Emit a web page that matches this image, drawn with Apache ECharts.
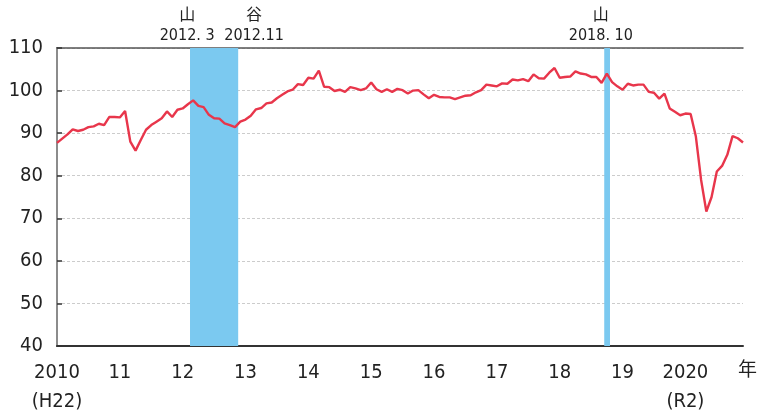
<!DOCTYPE html>
<html>
<head>
<meta charset="utf-8">
<script src="https://cdn.jsdelivr.net/npm/echarts@6/dist/echarts.min.js"></script>
<style>
  html, body { margin: 0; padding: 0; background: #fff; }
  #chart { width: 760px; height: 410px; }
</style>
</head>
<body>
<div id="chart"></div>
<script>
// monthly index, Jan 2010 .. Dec 2020 (x = month number from Jan 2010)
const values = [
  87.7, 88.7, 89.7, 90.9, 90.5, 90.8, 91.4, 91.6, 92.2, 91.9, 93.8, 93.8,
  93.7, 95.2, 88.0, 85.9, 88.4, 90.8, 91.9, 92.7, 93.5, 95.1, 93.8, 95.5,
  95.8, 96.8, 97.7, 96.4, 96.1, 94.3, 93.5, 93.4, 92.3, 91.9, 91.4, 92.7,
  93.2, 94.1, 95.6, 95.9, 97.0, 97.2, 98.2, 99.0, 99.8, 100.2, 101.5, 101.3,
  103.0, 102.8, 104.7, 100.9, 100.8, 99.9, 100.2, 99.7, 100.8, 100.5, 100.1, 100.5,
  101.9, 100.3, 99.7, 100.3, 99.7, 100.4, 100.1, 99.3, 100.0, 100.1, 99.1, 98.2,
  99.0, 98.5, 98.4, 98.4, 98.0, 98.4, 98.8, 98.9, 99.6, 100.1, 101.4, 101.2,
  101.0, 101.7, 101.6, 102.6, 102.4, 102.7, 102.2, 103.8, 102.9, 102.8, 104.2, 105.3,
  103.0, 103.2, 103.3, 104.5, 104.0, 103.8, 103.2, 103.2, 101.8, 104.0, 102.0, 101.0,
  100.2, 101.6, 101.2, 101.4, 101.4, 99.7, 99.5, 98.1, 99.3, 95.8, 95.0, 94.2,
  94.6, 94.5, 89.2, 79.0, 71.6, 75.0, 81.0, 82.3, 84.9, 89.3, 88.8, 87.8
];
const yearLabels = ['2010\n(H22)', '11', '12', '13', '14', '15', '16', '17', '18', '19', '2020\n(R2)'];
// recession shading (month positions)
const bands = [[25.4, 34.6], [104.5, 105.6]];
// turning point notes: month position, text
const turnPos = [26, 34, 105];
const turnText = ['山\n2012. 3', '谷\n2012.11', '山\n2018. 10'];
const turnShift = [-6, 19, -6];

const FONT = "'DejaVu Sans Condensed', 'Noto Sans CJK JP', sans-serif";
const chart = echarts.init(document.getElementById('chart'), null, { renderer: 'canvas' });

const noteLabel = (k) => ({
  show: true,
  position: 'end',
  formatter: turnText[k],
  offset: [turnShift[k], 0],
  color: '#222',
  fontSize: 16,
  lineHeight: 20,
  distance: 2,
  fontFamily: FONT
});

const option = {
  animation: false,
  grid: { left: 57, right: 17, top: 48, bottom: 64, outerBoundsMode: 'none', containLabel: false },
  xAxis: [
    {
      type: 'value',
      min: 0,
      max: values.length - 1,
      interval: 12,
      name: '年',
      nameLocation: 'end',
      nameGap: -5,
      nameTextStyle: { color: '#222', fontSize: 19, fontFamily: "'Noto Sans CJK JP', sans-serif", verticalAlign: 'top', padding: [13, 0, 0, 0] },
      axisLine: { lineStyle: { color: '#333', width: 2 } },
      axisTick: { show: false },
      splitLine: { show: false },
      axisLabel: {
        color: '#222',
        fontSize: 20,
        lineHeight: 29,
        margin: 12,
        fontFamily: FONT,
        formatter: v => (v % 12 === 0 ? yearLabels[v / 12] : '')
      }
    },
    {
      type: 'value',
      position: 'top',
      min: 0,
      max: values.length - 1,
      axisLine: { show: true, lineStyle: { color: '#555', width: 1.5 } },
      axisTick: { show: false },
      axisLabel: { show: false },
      splitLine: { show: false }
    }
  ],
  yAxis: [
    {
      type: 'value',
      min: 40,
      max: 110,
      interval: 10,
      axisLine: { show: true, lineStyle: { color: '#333', width: 2 } },
      axisTick: { show: true, inside: true, length: 5, lineStyle: { color: '#333', width: 1.5 } },
      axisLabel: { color: '#222', fontSize: 20, margin: 14, fontFamily: FONT },
      splitLine: { lineStyle: { color: '#cccccc', width: 1, type: [3, 2] } }
    },
    {
      type: 'value',
      position: 'right',
      min: 40,
      max: 110,
      axisLine: { show: true, lineStyle: { color: '#8c8c8c', width: 2 } },
      axisTick: { show: false },
      axisLabel: { show: false },
      splitLine: { show: false }
    }
  ],
  series: [
    {
      type: 'line',
      data: values.map((v, i) => [i, v]),
      showSymbol: false,
      z: 3,
      lineStyle: { color: '#e8364b', width: 2.4 },
      markArea: {
        silent: true,
        itemStyle: { color: '#7bc9f0', opacity: 1 },
        data: bands.map(b => [{ xAxis: b[0] }, { xAxis: b[1] }])
      },
      markLine: {
        silent: true,
        symbol: 'none',
        lineStyle: { color: 'rgba(0,0,0,0)', width: 0 },
        data: turnPos.map((p, k) => ({
          xAxis: p,
          label: noteLabel(k)
        }))
      }
    }
  ]
};

chart.setOption(option);
</script>
</body>
</html>
